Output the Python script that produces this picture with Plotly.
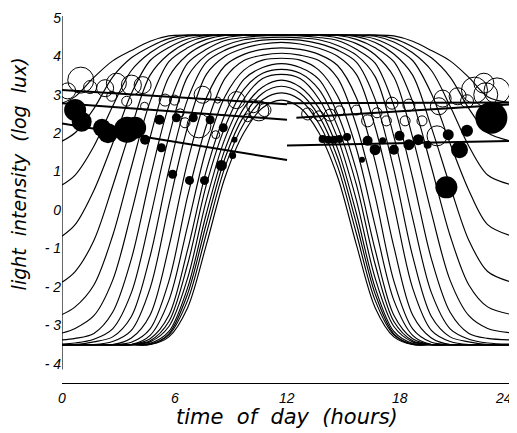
import plotly.graph_objects as go

# ---- time grid (hours) shared by the model light curves ----
hours = [0, 0.7, 1.7, 2.7, 3.7, 4.7, 5.7, 6.7, 7.7, 8.7, 9.7, 10.7, 11.7,
         12.7, 13.7, 14.7, 15.7, 16.7, 17.7, 18.7, 19.7, 20.7, 21.7, 22.7, 24]

# ---- model light curves (log lux) ----
curve_01 = [2.78, 2.95, 3.45, 3.88, 4.15, 4.39, 4.53, 4.55, 4.55, 4.55, 4.55, 4.55, 4.55, 4.55, 4.55, 4.55, 4.55, 4.55, 4.53, 4.39, 4.15, 3.88, 3.45, 2.95, 2.78]
curve_02 = [1.79, 2.01, 2.64, 3.46, 3.96, 4.25, 4.46, 4.55, 4.55, 4.55, 4.55, 4.55, 4.55, 4.55, 4.55, 4.55, 4.55, 4.55, 4.46, 4.25, 3.96, 3.46, 2.64, 2.01, 1.79]
curve_03 = [0.65, 0.91, 1.66, 2.70, 3.63, 4.09, 4.37, 4.52, 4.55, 4.55, 4.55, 4.55, 4.55, 4.55, 4.55, 4.55, 4.55, 4.52, 4.37, 4.09, 3.63, 2.70, 1.66, 0.91, 0.65]
curve_04 = [-0.68, -0.38, 0.51, 1.73, 3.03, 3.89, 4.23, 4.45, 4.54, 4.55, 4.55, 4.55, 4.55, 4.55, 4.55, 4.55, 4.54, 4.45, 4.23, 3.89, 3.03, 1.73, 0.51, -0.38, -0.68]
curve_05 = [-1.88, -1.60, -0.79, 0.62, 2.15, 3.51, 4.06, 4.36, 4.51, 4.55, 4.55, 4.55, 4.55, 4.55, 4.55, 4.55, 4.51, 4.36, 4.06, 3.51, 2.15, 0.62, -0.79, -1.60, -1.88]
curve_06 = [-2.72, -2.52, -1.95, -0.67, 1.12, 2.82, 3.86, 4.22, 4.44, 4.54, 4.55, 4.55, 4.55, 4.55, 4.55, 4.54, 4.44, 4.22, 3.86, 2.82, 1.12, -0.67, -1.95, -2.52, -2.72]
curve_07 = [-3.20, -3.08, -2.75, -1.83, -0.07, 1.89, 3.46, 4.04, 4.33, 4.48, 4.54, 4.55, 4.55, 4.55, 4.54, 4.48, 4.33, 4.04, 3.46, 1.89, -0.07, -1.83, -2.75, -3.08, -3.20]
curve_08 = [-3.38, -3.34, -3.21, -2.66, -1.27, 0.84, 2.71, 3.82, 4.18, 4.41, 4.49, 4.53, 4.54, 4.53, 4.49, 4.41, 4.18, 3.82, 2.71, 0.84, -1.27, -2.66, -3.21, -3.34, -3.38]
curve_09 = [-3.49, -3.46, -3.36, -3.09, -2.15, -0.21, 1.91, 3.47, 4.03, 4.28, 4.43, 4.48, 4.50, 4.48, 4.43, 4.28, 4.03, 3.47, 1.91, -0.21, -2.15, -3.09, -3.36, -3.46, -3.49]
curve_10 = [-3.50, -3.50, -3.43, -3.30, -2.77, -1.20, 1.05, 2.88, 3.85, 4.16, 4.33, 4.42, 4.44, 4.42, 4.33, 4.16, 3.85, 2.88, 1.05, -1.20, -2.77, -3.30, -3.43, -3.50, -3.50]
curve_11 = [-3.50, -3.50, -3.50, -3.42, -3.13, -2.03, 0.13, 2.16, 3.53, 4.00, 4.21, 4.32, 4.36, 4.32, 4.21, 4.00, 3.53, 2.16, 0.13, -2.03, -3.13, -3.42, -3.50, -3.50, -3.50]
curve_12 = [-3.50, -3.50, -3.50, -3.50, -3.33, -2.73, -0.96, 1.26, 2.92, 3.76, 4.05, 4.18, 4.22, 4.18, 4.05, 3.76, 2.92, 1.26, -0.96, -2.73, -3.33, -3.50, -3.50, -3.50, -3.50]
curve_13 = [-3.50, -3.50, -3.50, -3.50, -3.44, -3.09, -1.85, 0.36, 2.20, 3.43, 3.89, 4.03, 4.08, 4.03, 3.89, 3.43, 2.20, 0.36, -1.85, -3.09, -3.44, -3.50, -3.50, -3.50, -3.50]
curve_14 = [-3.50, -3.50, -3.50, -3.50, -3.50, -3.26, -2.35, -0.41, 1.60, 2.96, 3.64, 3.90, 3.95, 3.90, 3.64, 2.96, 1.60, -0.41, -2.35, -3.26, -3.50, -3.50, -3.50, -3.50, -3.50]
curve_15 = [-3.50, -3.50, -3.50, -3.50, -3.50, -3.35, -2.74, -1.03, 1.03, 2.50, 3.40, 3.71, 3.81, 3.71, 3.40, 2.50, 1.03, -1.03, -2.74, -3.35, -3.50, -3.50, -3.50, -3.50, -3.50]
curve_16 = [-3.50, -3.50, -3.50, -3.50, -3.50, -3.40, -2.90, -1.41, 0.66, 2.17, 3.14, 3.56, 3.66, 3.56, 3.14, 2.17, 0.66, -1.41, -2.90, -3.40, -3.50, -3.50, -3.50, -3.50, -3.50]
curve_17 = [-3.50, -3.50, -3.50, -3.50, -3.50, -3.43, -3.03, -1.77, 0.26, 1.87, 2.89, 3.42, 3.53, 3.42, 2.89, 1.87, 0.26, -1.77, -3.03, -3.43, -3.50, -3.50, -3.50, -3.50, -3.50]
curve_18 = [-3.50, -3.50, -3.50, -3.50, -3.50, -3.47, -3.16, -2.02, -0.09, 1.59, 2.65, 3.20, 3.38, 3.20, 2.65, 1.59, -0.09, -2.02, -3.16, -3.47, -3.50, -3.50, -3.50, -3.50, -3.50]
curve_19 = [-3.50, -3.50, -3.50, -3.50, -3.50, -3.49, -3.22, -2.18, -0.35, 1.36, 2.45, 3.04, 3.22, 3.04, 2.45, 1.36, -0.35, -2.18, -3.22, -3.49, -3.50, -3.50, -3.50, -3.50, -3.50]
curve_20 = [-3.50, -3.50, -3.50, -3.50, -3.50, -3.50, -3.25, -2.35, -0.61, 1.13, 2.25, 2.87, 3.05, 2.87, 2.25, 1.13, -0.61, -2.35, -3.25, -3.50, -3.50, -3.50, -3.50, -3.50, -3.50]
curve_21 = [-3.50, -3.50, -3.50, -3.50, -3.50, -3.50, -3.30, -2.54, -0.90, 0.86, 2.01, 2.66, 2.86, 2.66, 2.01, 0.86, -0.90, -2.54, -3.30, -3.50, -3.50, -3.50, -3.50, -3.50, -3.50]

# ---- open circles (hour, log lux, marker diameter) ----
open_hour = [0.3, 1.0, 1.5, 2.3, 2.65, 2.9, 3.7, 4.3, 3.45, 4.4, 5.5, 6.0, 6.3, 6.56, 7.5, 7.3,
             8.3, 8.2, 9.3, 9.9, 10.2, 10.5, 10.8, 13.1, 13.7, 14.3, 14.8, 15.7, 16.3, 16.8,
             17.3, 17.6, 18.3, 18.5, 19.2, 20.0, 20.1, 20.3, 21.1, 21.6, 22.0, 22.5, 22.6, 23.2]
open_value = [3.1, 3.38, 3.2, 3.17, 2.96, 3.3, 3.25, 3.25, 2.83, 2.7, 2.86, 2.86, 2.53, 2.27, 3.0, 2.19,
              2.86, 1.96, 2.86, 2.4, 2.7, 2.58, 2.6, 2.5, 2.45, 2.47, 2.58, 2.6, 2.32, 2.53,
              2.32, 2.78, 2.32, 2.73, 2.32, 1.93, 2.7, 2.9, 2.96, 2.83, 3.12, 3.3, 3.0, 3.1]
open_size = [16, 26, 13, 17, 10, 20, 20, 17, 10, 8, 12, 10, 8, 10, 17, 24,
             6, 8, 17, 8, 13, 20, 13, 12, 10, 12, 10, 10, 12, 10,
             10, 12, 10, 12, 10, 20, 17, 17, 17, 13, 26, 20, 24, 26]

# ---- filled circles (hour, log lux, marker diameter) ----
filled_hour = [0.7, 1.05, 2.13, 2.45, 3.47, 3.9, 4.43, 5.2, 5.3, 6.1, 7.0, 7.9, 8.6, 5.9, 6.8, 7.6,
               8.5, 9.1, 9.2, 13.9, 14.2, 14.5, 14.8, 15.2, 16.0, 16.3, 16.7, 17.1, 17.7, 18.0,
               18.5, 19.0, 19.5, 20.6, 21.2, 21.6, 22.9, 20.5]
filled_value = [2.6, 2.3, 2.14, 2.0, 2.09, 2.14, 1.83, 2.35, 1.62, 2.4, 2.4, 2.35, 2.14, 0.93, 0.77, 0.77,
                1.16, 1.42, 1.83, 1.85, 1.83, 1.83, 1.85, 1.9, 1.31, 1.8, 1.57, 1.8, 1.57, 1.93,
                1.7, 1.83, 1.7, 1.96, 1.57, 2.06, 2.4, 0.59]
filled_size = [22, 20, 18, 20, 26, 22, 10, 10, 9, 9, 9, 9, 9, 9, 9, 9,
               11, 7, 6, 8, 8, 8, 8, 8, 6, 10, 11, 7, 10, 10,
               11, 11, 8, 11, 17, 12, 32, 22]

# ---- fitted lines (start/end hour, start/end log lux) ----
reg_upper_left_hour = [0, 12]
reg_upper_left_value = [3.12, 2.75]
reg_mid_left_hour = [0, 12]
reg_mid_left_value = [2.78, 2.35]
reg_lower_left_hour = [0, 12]
reg_lower_left_value = [2.25, 1.3]
reg_upper_right_hour = [12, 24]
reg_upper_right_value = [2.78, 2.8]
reg_mid_right_hour = [12.5, 24]
reg_mid_right_value = [2.4, 2.75]
reg_lower_right_hour = [12, 24]
reg_lower_right_value = [1.68, 1.8]

y_ticks = [-4, -3, -2, -1, 0, 1, 2, 3, 4, 5]
y_tick_text = ["- 4", "- 3", "- 2", "- 1", "0", "1", "2", "3", "4", "5"]
x_ticks = [0, 6, 12, 18, 23.55]
x_tick_text = ["0", "6", "12", "18", "24"]

model_curves = [curve_01, curve_02, curve_03, curve_04, curve_05, curve_06, curve_07,
                curve_08, curve_09, curve_10, curve_11, curve_12, curve_13, curve_14,
                curve_15, curve_16, curve_17, curve_18, curve_19, curve_20, curve_21]

fig = go.Figure()

for vals in model_curves:
    fig.add_trace(go.Scatter(x=hours, y=vals, mode="lines",
                             line=dict(color="black", width=1.15, shape="spline", smoothing=0.9),
                             showlegend=False, hoverinfo="skip"))

for hx, vy in [(reg_upper_left_hour, reg_upper_left_value), (reg_mid_left_hour, reg_mid_left_value),
               (reg_lower_left_hour, reg_lower_left_value), (reg_upper_right_hour, reg_upper_right_value),
               (reg_mid_right_hour, reg_mid_right_value), (reg_lower_right_hour, reg_lower_right_value)]:
    fig.add_trace(go.Scatter(x=hx, y=vy, mode="lines", line=dict(color="black", width=2),
                             showlegend=False, hoverinfo="skip"))

fig.add_trace(go.Scatter(x=open_hour, y=open_value, mode="markers",
                         marker=dict(symbol="circle-open", size=open_size, color="black", opacity=1,
                                     line=dict(color="black", width=1)),
                         showlegend=False))
fig.add_trace(go.Scatter(x=filled_hour, y=filled_value, mode="markers",
                         marker=dict(symbol="circle", size=filled_size, color="black", opacity=1,
                                     line=dict(width=0)),
                         showlegend=False))

tick_font = dict(family="Liberation Sans", size=14, color="black", style="italic")
title_font = dict(family="DejaVu Sans", color="black", style="italic")

# x tick labels placed as annotations just under the detached axis line
x_label_annotations = [
    dict(text=t, x=v, xref="x", y=-0.04, yref="paper", xanchor="center", yanchor="middle",
         showarrow=False, font=tick_font)
    for v, t in zip(x_ticks, x_tick_text)
]

fig.update_layout(
    width=509, height=425,
    margin=dict(l=54, r=5, t=2, b=50),
    paper_bgcolor="white", plot_bgcolor="white",
    xaxis=dict(range=[0, 24], showgrid=False, zeroline=False, showline=True,
               linecolor="black", linewidth=1.2, ticks="", showticklabels=False),
    yaxis=dict(range=[-4.5, 5.1], showgrid=False, zeroline=False, showline=False,
               ticks="", tickvals=y_ticks, ticktext=y_tick_text, tickfont=tick_font,
               ticklabeloverflow="allow"),
    shapes=[
        dict(type="line", xref="x", yref="y", x0=0, x1=0, y0=-4.15, y1=5.05,
             line=dict(color="black", width=1.2)),
        dict(type="line", xref="x", yref="y", x0=24, x1=24, y0=-4.05, y1=5.05,
             line=dict(color="black", width=1.2)),
    ],
    annotations=x_label_annotations + [
        dict(text="time  of  day  (hours)", xref="paper", yref="paper", x=0.5, y=-0.092,
             xanchor="center", yanchor="middle", showarrow=False,
             font=dict(size=21, **title_font)),
        dict(text="light  intensity  (log  lux)", xref="paper", yref="paper", x=-0.095, y=0.566,
             xanchor="center", yanchor="middle", textangle=-90, showarrow=False,
             font=dict(size=19, **title_font)),
    ],
)

fig.write_html("out.html")
